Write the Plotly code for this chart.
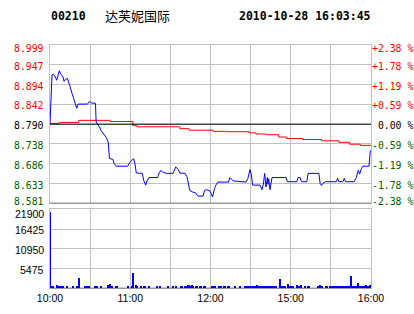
import plotly.graph_objects as go

# ---------------- data ----------------
stock_code = "00210"
stock_name = "达芙妮国际"
stamp = "2010-10-28 16:03:45"
prev_close = 8.790

# minute index since 10:00 (0..240 on the chart's time scale)
price_t = [0, 0.5, 1.5, 2.5, 4, 5, 6, 7, 8, 9.5, 10.5, 11.5, 13, 14, 15, 16.5, 18, 19, 20, 21,
           28, 29.5, 31, 34, 34.5, 35.5, 37, 38, 40, 42, 43.5, 44.5, 47, 48, 49.5, 58, 60, 62,
           62.5, 63.5, 64.5, 69, 70, 71.5, 72.5, 74, 80.5, 81.5, 83, 84, 87, 92, 93, 94, 96, 97,
           101, 102.5, 103.5, 104.5, 106.5, 109, 110.5, 114.5, 115.5, 117, 119.5, 121.5, 123,
           124, 125.5, 133.5, 134.5, 137, 146.5, 148, 149.5, 150.5, 151.5, 157, 158.5, 159.5,
           160.5, 161.5, 162.5, 163, 163.5, 164.5, 166, 176.5, 177.5, 184.5, 185.5, 187, 188,
           192, 193, 201, 202, 203, 204, 206, 214, 215, 216, 219, 220, 221, 227.5, 229, 230.5,
           231.5, 232.5, 234, 238.5, 239, 239.5]
price_v = [8.790, 8.832, 8.920, 8.922, 8.915, 8.906, 8.920, 8.931, 8.922, 8.917, 8.903, 8.908,
           8.911, 8.902, 8.889, 8.871, 8.855, 8.840, 8.832, 8.843, 8.843, 8.850, 8.846, 8.845,
           8.796, 8.790, 8.783, 8.774, 8.765, 8.755, 8.743, 8.699, 8.697, 8.686, 8.679, 8.679,
           8.690, 8.699, 8.699, 8.686, 8.661, 8.660, 8.642, 8.629, 8.640, 8.649, 8.649, 8.661,
           8.668, 8.664, 8.660, 8.660, 8.668, 8.677, 8.670, 8.661, 8.660, 8.651, 8.633, 8.615,
           8.611, 8.608, 8.600, 8.600, 8.615, 8.617, 8.614, 8.598, 8.620, 8.629, 8.637, 8.637,
           8.649, 8.640, 8.637, 8.647, 8.670, 8.658, 8.629, 8.629, 8.617, 8.631, 8.660, 8.624,
           8.649, 8.631, 8.646, 8.617, 8.649, 8.649, 8.638, 8.638, 8.649, 8.649, 8.638, 8.638,
           8.660, 8.660, 8.633, 8.628, 8.633, 8.638, 8.638, 8.647, 8.638, 8.638, 8.647, 8.638,
           8.638, 8.649, 8.668, 8.658, 8.670, 8.679, 8.679, 8.699, 8.721]

avg_t = [0, 7, 21.5, 45, 62, 65, 97, 104, 122, 132, 149, 154, 162, 171, 177, 189, 203, 216, 224, 232, 240]
avg_v = [8.792, 8.7945, 8.800, 8.797, 8.786, 8.783, 8.778, 8.774, 8.771, 8.770, 8.767, 8.764,
         8.762, 8.756, 8.752, 8.7495, 8.746, 8.742, 8.737, 8.734, 8.734]

vol_t = [0, 1, 2, 5, 7, 8, 10, 13, 17, 20, 22, 26, 28, 29, 34, 35, 38, 43, 44, 45, 46, 49, 50,
         58, 61, 62, 64, 65, 68, 70, 71, 74, 80, 82, 88, 92, 94, 98, 99, 101, 102, 103, 104,
         105, 106, 107, 109, 110, 112, 113, 115, 116, 121, 122, 123, 126, 127, 128, 130, 131,
         133, 134, 138, 142, 146, 147, 149, 150, 151, 152, 153, 154, 155, 156, 157, 158, 159,
         160, 161, 162, 163, 164, 165, 166, 167, 168, 169, 172, 173, 174, 175, 176, 178, 179,
         180, 182, 185, 186, 187, 188, 191, 193, 194, 200, 201, 202, 203, 206, 207, 209, 210,
         211, 212, 213, 214, 215, 216, 217, 218, 219, 220, 221, 223, 224, 225, 226, 227, 228,
         229, 230, 232, 233, 234, 235, 236, 238, 239, 240]
vol_v = [21200, 450, 450, 750, 450, 450, 450, 450, 450, 450, 2770, 450, 450, 450, 450, 450, 450,
         700, 900, 1100, 450, 450, 450, 450, 450, 4060, 750, 450, 450, 450, 450, 450, 450, 450,
         450, 450, 450, 450, 450, 450, 450, 750, 750, 450, 750, 450, 450, 450, 450, 450, 450,
         450, 450, 450, 450, 450, 450, 450, 450, 450, 450, 450, 450, 450, 450, 450, 450, 450,
         450, 450, 450, 450, 750, 450, 450, 450, 450, 450, 450, 450, 450, 450, 450, 450, 450,
         450, 450, 2400, 450, 450, 450, 450, 1000, 450, 450, 450, 750, 450, 450, 750, 450, 450,
         450, 450, 450, 750, 450, 450, 450, 450, 450, 450, 450, 450, 450, 450, 450, 450, 450,
         450, 450, 450, 450, 450, 3230, 450, 450, 450, 450, 1290, 450, 450, 450, 450, 750, 450,
         900, 450]

price_ticks = [8.999, 8.947, 8.894, 8.842, 8.790, 8.738, 8.686, 8.633, 8.581]
pct_labels = ["+2.38 %", "+1.78 %", "+1.19 %", "+0.59 %", "\u00a00.00 %",
              "-0.59 %", "-1.19 %", "-1.78 %", "-2.38 %"]
vol_ticks = [21900, 16425, 10950, 5475]
time_grid = [0, 30, 60, 90, 120, 150, 180, 210, 240]
time_labels = ["10:00", "", "11:00", "", "12:00", "", "15:00", "", "16:00"]

# ---------------- figure ----------------
W, H = 414, 314
RED, GREEN, BLACK, GRID = "#ff0000", "#006000", "#000000", "#c0c0c0"

def px_x(p):
    return p / W

def px_y(p):
    return 1 - p / H

fig = go.Figure()
fig.add_trace(go.Scatter(x=avg_t, y=avg_v, mode="lines", line=dict(color=RED, width=1, shape="hv"),
                         xaxis="x", yaxis="y", hoverinfo="skip"))
fig.add_trace(go.Scatter(x=price_t, y=price_v, mode="lines", line=dict(color="#0000ff", width=1),
                         xaxis="x", yaxis="y", hoverinfo="skip"))
fig.add_trace(go.Bar(x=vol_t, y=vol_v, width=0.75, marker=dict(color="#0000ff", line=dict(width=0)),
                     xaxis="x2", yaxis="y2", hoverinfo="skip"))

xd = [px_x(50), px_x(371)]
axis_common = dict(showgrid=True, gridcolor=GRID, gridwidth=1, showline=True, linecolor=GRID,
                   linewidth=1, mirror=True, zeroline=False, ticks="", fixedrange=True,
                   automargin=False)

fig.update_layout(
    width=W, height=H, margin=dict(l=0, r=0, t=0, b=0, pad=0), autosize=False,
    paper_bgcolor="white", plot_bgcolor="white", showlegend=False, bargap=0,
    xaxis=dict(domain=xd, range=[0, 240], tickvals=time_grid, showticklabels=False,
               anchor="y", **axis_common),
    yaxis=dict(domain=[px_y(203.3), px_y(45)], range=[price_ticks[-1], price_ticks[0]],
               tickvals=price_ticks, showticklabels=False, anchor="x", **axis_common),
    xaxis2=dict(domain=xd, range=[0, 240], tickvals=time_grid, ticktext=time_labels,
                tickfont=dict(family="Liberation Sans, Arial", size=10.5, color=BLACK),
                anchor="y2", **axis_common),
    yaxis2=dict(domain=[px_y(288.3), px_y(209.3)], range=[0, 21900],
                tickvals=[0] + vol_ticks[::-1], showticklabels=False, anchor="x2", **axis_common),
)

# black reference lines
fig.add_shape(type="line", xref="x", yref="y", x0=0, x1=240, y0=prev_close, y1=prev_close,
              line=dict(color=BLACK, width=1))
fig.add_shape(type="line", xref="x", yref="y", x0=0, x1=240, y0=price_ticks[-1], y1=price_ticks[-1],
              line=dict(color=BLACK, width=1))
fig.add_shape(type="line", xref="x2", yref="y2", x0=0, x1=240, y0=0, y1=0,
              line=dict(color=BLACK, width=1))

mono = "DejaVu Sans Mono"
n = len(price_ticks)
for i, (v, lab) in enumerate(zip(price_ticks, pct_labels)):
    col = RED if i < 4 else (BLACK if i == 4 else GREEN)
    ys = -4 if i == 0 else (2 if i == n - 1 else -1.5)
    fig.add_annotation(x=px_x(45), xref="paper", y=v, yref="y", text=f"{v:.3f}", showarrow=False,
                       xanchor="right", yanchor="middle", yshift=ys, borderpad=0,
                       font=dict(family=mono, size=9.8, color=col))
    fig.add_annotation(x=px_x(371), xref="paper", y=v, yref="y", text=lab, showarrow=False,
                       xanchor="left", yanchor="middle", yshift=ys, borderpad=0,
                       font=dict(family=mono, size=9.8, color=col))

for i, v in enumerate(vol_ticks):
    fig.add_annotation(x=px_x(45), xref="paper", y=v, yref="y2", text=str(v), showarrow=False,
                       xanchor="right", yanchor="middle", yshift=-4.5 if i == 0 else -1,
                       borderpad=0,
                       font=dict(family="Liberation Sans, Arial", size=10.5, color=BLACK))

ty = px_y(16)
fig.add_annotation(x=px_x(49), y=ty, xref="paper", yref="paper", text=f"<b>{stock_code}</b>",
                   showarrow=False, xanchor="left", yanchor="middle",
                   font=dict(family=mono, size=11.5, color=BLACK))
fig.add_annotation(x=px_x(103), y=ty, xref="paper", yref="paper", text=stock_name,
                   showarrow=False, xanchor="left", yanchor="middle",
                   font=dict(family="Noto Sans CJK SC", size=13, color=BLACK))
fig.add_annotation(x=px_x(237), y=ty, xref="paper", yref="paper", text=f"<b>{stamp}</b>",
                   showarrow=False, xanchor="left", yanchor="middle",
                   font=dict(family=mono, size=11.5, color=BLACK))

fig.write_html("out.html", config={"displayModeBar": False})
